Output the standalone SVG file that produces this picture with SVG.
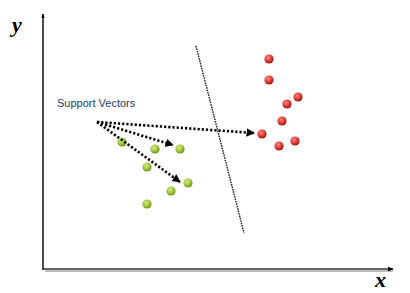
<svg xmlns="http://www.w3.org/2000/svg" width="410" height="293" viewBox="0 0 410 293">
<style>
.lbl{font-family:"Liberation Serif",serif;font-weight:bold;font-style:italic;font-size:22px;fill:#000}
.sv{font-family:"Liberation Sans",Arial,sans-serif;font-size:11px;fill:#1f3864}
.arr{stroke:#000;stroke-width:2.6;stroke-dasharray:2.2 2;fill:none}
.g{fill:url(#gg)}
.r{fill:url(#rg)}
</style>
<defs>
<radialGradient id="gg" cx="0.4" cy="0.35" r="0.65">
<stop offset="0" stop-color="#d4ec8a"/><stop offset="0.6" stop-color="#9dc43a"/><stop offset="1" stop-color="#6f9418"/>
</radialGradient>
<radialGradient id="rg" cx="0.4" cy="0.35" r="0.65">
<stop offset="0" stop-color="#ff8a80"/><stop offset="0.6" stop-color="#d93a34"/><stop offset="1" stop-color="#a01414"/>
</radialGradient>
<marker id="ah" viewBox="0 0 10 10" refX="9" refY="5" markerWidth="3.2" markerHeight="3.2" orient="auto" markerUnits="strokeWidth">
<path d="M0,0 L10,5 L0,10 Z" fill="#000"/>
</marker>
<marker id="axh" viewBox="0 0 10 10" refX="9" refY="5" markerWidth="3" markerHeight="3" orient="auto" markerUnits="strokeWidth">
<path d="M0,1 L10,5 L0,9 Z" fill="#000"/>
</marker>
</defs>
<g id="axes">
<line x1="45" y1="271" x2="393" y2="271" stroke="#bbb" stroke-width="2"/>
<line x1="43" y1="269" x2="393" y2="269" stroke="#666" stroke-width="2" marker-end="url(#axh)"/>
<line x1="43" y1="270" x2="43" y2="14" stroke="#000" stroke-width="1.4" marker-end="url(#axh)"/>
<text class="lbl" x="12" y="32">y</text>
<text class="lbl" x="375" y="287">x</text>
</g>
<g id="hyperplane">
<line x1="196" y1="46" x2="244" y2="233" stroke="#111" stroke-width="1.4" stroke-dasharray="1.5 1"/>
</g>
<g id="green-points">
<circle class="g" cx="122" cy="142" r="4.6"/>
<circle class="g" cx="155" cy="149" r="4.6"/>
<circle class="g" cx="180" cy="149" r="4.6"/>
<circle class="g" cx="147" cy="167" r="4.6"/>
<circle class="g" cx="188" cy="183" r="4.6"/>
<circle class="g" cx="171" cy="191" r="4.6"/>
<circle class="g" cx="147" cy="204" r="4.6"/>
</g>
<g id="red-points">
<circle class="r" cx="269" cy="59" r="4.6"/>
<circle class="r" cx="269" cy="80" r="4.6"/>
<circle class="r" cx="298" cy="97" r="4.6"/>
<circle class="r" cx="287" cy="104" r="4.6"/>
<circle class="r" cx="282" cy="121" r="4.6"/>
<circle class="r" cx="262" cy="134" r="4.6"/>
<circle class="r" cx="295" cy="141" r="4.6"/>
<circle class="r" cx="279" cy="146" r="4.6"/>
</g>
<g id="support-vectors-label">
<text class="sv" x="57" y="107">Support Vectors</text>
</g>
<g id="connectors">
<line class="arr" x1="97" y1="122" x2="254" y2="133" marker-end="url(#ah)"/>
<line class="arr" x1="97" y1="122" x2="173" y2="145" marker-end="url(#ah)"/>
<line class="arr" x1="97" y1="122" x2="180" y2="182" marker-end="url(#ah)"/>
</g>
</svg>
